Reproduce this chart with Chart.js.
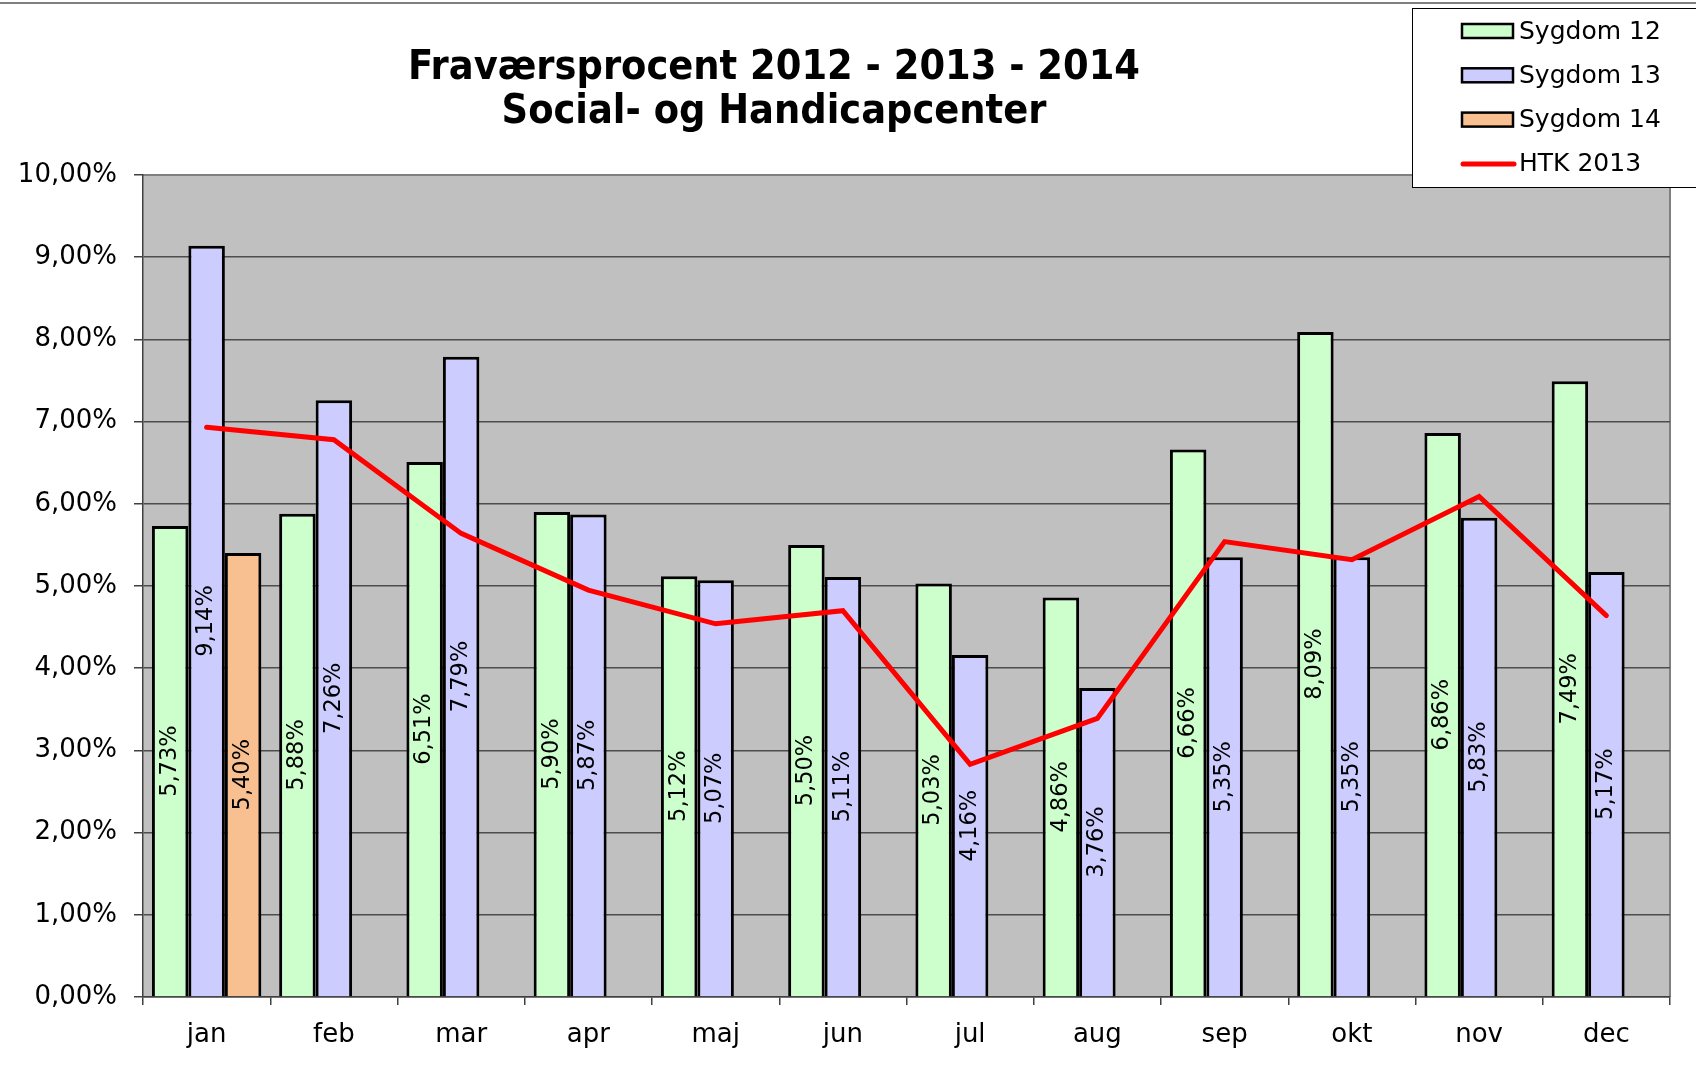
<!DOCTYPE html>
<html lang="da">
<head>
<meta charset="utf-8">
<title>Fraværsprocent 2012 - 2013 - 2014</title>
<script src="https://cdn.jsdelivr.net/npm/chart.js@4/dist/chart.umd.min.js"></script>
<style>
  html, body { margin: 0; padding: 0; background: #fff; }
  canvas { display: block; }
</style>
</head>
<body>
<canvas id="fravaer" width="1696" height="1089"></canvas>
<script>
// Data (percent)
const months = ['jan', 'feb', 'mar', 'apr', 'maj', 'jun', 'jul', 'aug', 'sep', 'okt', 'nov', 'dec'];
const sygdom12 = [5.73, 5.88, 6.51, 5.90, 5.12, 5.50, 5.03, 4.86, 6.66, 8.09, 6.86, 7.49];
const sygdom13 = [9.14, 7.26, 7.79, 5.87, 5.07, 5.11, 4.16, 3.76, 5.35, 5.35, 5.83, 5.17];
const sygdom14 = [5.40, null, null, null, null, null, null, null, null, null, null, null];
const htk2013 = [6.93, 6.78, 5.64, 4.95, 4.54, 4.70, 2.83, 3.39, 5.54, 5.32, 6.09, 4.64];
const titleLines = ['Fraværsprocent 2012 - 2013 - 2014', 'Social- og Handicapcenter'];

const FONT = 'Verdana, "DejaVu Sans", sans-serif';

/**
 * Format a number as a Danish percent string
 * @param {number} v value in percent
 * @returns {string}
 */
function pct(v) {
  return v.toFixed(2).replace('.', ',') + '%';
}

/**
 * Grey plot background, frame and the thin line along the top of the picture
 */
const plotFrame = {
  id: 'plotFrame',
  beforeDraw(chart) {
    const { ctx, chartArea: a } = chart;
    ctx.save();
    ctx.fillStyle = '#c0c0c0';
    ctx.fillRect(a.left, a.top, a.right - a.left, a.bottom - a.top);
    ctx.strokeStyle = '#808080';
    ctx.lineWidth = 2;
    ctx.beginPath();
    ctx.moveTo(a.left, a.top);
    ctx.lineTo(a.right, a.top);
    ctx.lineTo(a.right, a.bottom);
    ctx.stroke();
    ctx.beginPath();
    ctx.moveTo(0, 3);
    ctx.lineTo(chart.width, 3);
    ctx.stroke();
    ctx.restore();
  }
};

/**
 * Rotated value labels in the middle of each bar
 */
const barLabels = {
  id: 'barLabels',
  afterDatasetsDraw(chart) {
    const { ctx } = chart;
    ctx.save();
    ctx.font = '22.5px ' + FONT;
    ctx.fillStyle = '#000';
    ctx.textAlign = 'center';
    ctx.textBaseline = 'middle';
    chart.data.datasets.forEach((ds, i) => {
      if (ds.type !== 'bar') return;
      const meta = chart.getDatasetMeta(i);
      meta.data.forEach((el, j) => {
        const v = ds.data[j];
        if (v === null || v === undefined) return;
        ctx.save();
        ctx.translate(el.x, (el.y + el.base) / 2);
        ctx.rotate(-Math.PI / 2);
        ctx.fillText(pct(v), 0, 0);
        ctx.restore();
      });
    });
    ctx.restore();
  }
};

/**
 * Two line title and the boxed legend at the top right
 */
const titleAndLegend = {
  id: 'titleAndLegend',
  afterDraw(chart) {
    const { ctx } = chart;
    ctx.save();
    ctx.fillStyle = '#000';
    ctx.textAlign = 'center';
    ctx.textBaseline = 'middle';
    ctx.font = 'bold 41px "DejaVu Sans Condensed", "DejaVu Sans", sans-serif';
    ctx.fillText(titleLines[0], 774, 68);
    ctx.fillText(titleLines[1], 774, 112);

    // legend box
    ctx.fillStyle = '#fff';
    ctx.fillRect(1412, 8, 300, 179);
    ctx.strokeStyle = '#000';
    ctx.lineWidth = 1;
    ctx.strokeRect(1412.5, 8.5, 300, 179);

    ctx.font = '25px ' + FONT;
    ctx.textAlign = 'left';
    chart.data.datasets.forEach((ds, i) => {
      const y = 31 + i * 44.3;
      if (ds.type === 'bar') {
        ctx.fillStyle = ds.backgroundColor;
        ctx.fillRect(1462, y - 7, 51, 14);
        ctx.lineWidth = 2.5;
        ctx.strokeStyle = '#000';
        ctx.strokeRect(1462, y - 7, 51, 14);
      } else {
        ctx.strokeStyle = ds.borderColor;
        ctx.lineWidth = 5;
        ctx.lineCap = 'round';
        ctx.beginPath();
        ctx.moveTo(1463, y);
        ctx.lineTo(1514, y);
        ctx.stroke();
      }
      ctx.fillStyle = '#000';
      ctx.fillText(ds.label, 1519, y + 1);
    });
    ctx.restore();
  }
};

const canvas = document.getElementById('fravaer');

new Chart(canvas, {
  data: {
    labels: months,
    datasets: [
      {
        type: 'bar',
        label: 'Sygdom 12',
        data: sygdom12,
        backgroundColor: '#ccffcc',
        borderColor: '#000',
        borderWidth: 3,
        order: 1
      },
      {
        type: 'bar',
        label: 'Sygdom 13',
        data: sygdom13,
        backgroundColor: '#ccccff',
        borderColor: '#000',
        borderWidth: 3,
        order: 1
      },
      {
        type: 'bar',
        label: 'Sygdom 14',
        data: sygdom14,
        backgroundColor: '#f8c090',
        borderColor: '#000',
        borderWidth: 3,
        order: 1
      },
      {
        type: 'line',
        label: 'HTK 2013',
        data: htk2013,
        borderColor: '#ff0000',
        borderWidth: 5,
        borderCapStyle: 'round',
        borderJoinStyle: 'miter',
        pointRadius: 0,
        tension: 0,
        order: 0
      }
    ]
  },
  options: {
    responsive: false,
    animation: false,
    devicePixelRatio: 1,
    layout: {
      padding: { top: 175, right: 26, bottom: 0, left: 0 }
    },
    datasets: {
      bar: {
        categoryPercentage: 0.86,
        barPercentage: 1
      }
    },
    scales: {
      x: {
        offset: true,
        grid: {
          offset: true,
          drawOnChartArea: false,
          drawTicks: true,
          tickLength: 8,
          color: '#404040',
          lineWidth: 1.5
        },
        border: { display: true, color: '#404040', width: 1.5 },
        ticks: {
          color: '#000',
          padding: 15,
          maxRotation: 0,
          font: { family: FONT, size: 26 }
        },
        afterFit(scale) {
          scale.height = 92;
        }
      },
      y: {
        min: 0,
        max: 10,
        grid: {
          color: (c) => (c.tick && c.tick.value === 10 ? '#808080' : '#4d4d4d'),
          tickColor: '#404040',
          lineWidth: 1.5,
          tickLength: 9
        },
        border: { display: true, color: '#404040', width: 1.5 },
        ticks: {
          stepSize: 1,
          color: '#000',
          padding: 17,
          font: { family: FONT, size: 26 },
          callback: (v) => pct(v)
        },
        afterFit(scale) {
          scale.width = 143;
        }
      }
    },
    plugins: {
      legend: { display: false },
      title: { display: false },
      tooltip: { enabled: false }
    }
  },
  plugins: [plotFrame, barLabels, titleAndLegend]
});
</script>
</body>
</html>
